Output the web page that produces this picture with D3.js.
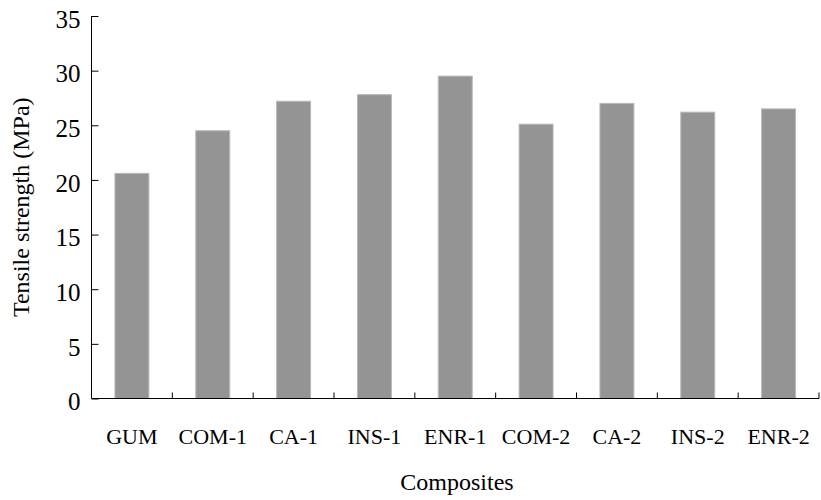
<!DOCTYPE html>
<html>
<head>
<meta charset="utf-8">
<script src="https://cdn.jsdelivr.net/npm/d3@7"></script>
<style>
  html, body { margin: 0; padding: 0; background: #fff; }
  svg text { font-family: "Liberation Serif", "Times New Roman", serif; fill: #000; }
</style>
</head>
<body>
<div id="chart"></div>
<script>
/* ===================================
 *  DATA
 * =================================== */
var composites = ["GUM", "COM-1", "CA-1", "INS-1", "ENR-1", "COM-2", "CA-2", "INS-2", "ENR-2"];
var tensileStrength = [20.6, 24.5, 27.2, 27.8, 29.5, 25.1, 27.0, 26.2, 26.5];
var yTicks = [0, 5, 10, 15, 20, 25, 30, 35];

/* ===================================
 *  SETUP
 * =================================== */
var width = 821,
  height = 500;

var margin = { top: 16, right: 2, bottom: 101.5, left: 91.5 };

var svg = d3
  .select("#chart")
  .append("svg")
  .attr("width", width)
  .attr("height", height);

var x = d3
  .scaleBand()
  .domain(composites)
  .range([margin.left, width - margin.right])
  .paddingInner(0.58)
  .paddingOuter(0.29);

var y = d3
  .scaleLinear()
  .domain([0, 35])
  .range([height - margin.bottom, margin.top]);

/* ===================================
 *  BARS
 * =================================== */
svg
  .append("g")
  .selectAll("rect")
  .data(tensileStrength)
  .join("rect")
  .attr("x", (d, i) => x(composites[i]))
  .attr("y", (d) => y(d))
  .attr("width", x.bandwidth())
  .attr("height", (d) => y(0) - y(d))
  .attr("fill", "#949494")
  .attr("stroke", "#b8b8b8")
  .attr("stroke-width", 1);

/* ===================================
 *  AXES
 * =================================== */
var yAxis = svg
  .append("g")
  .attr("transform", `translate(${margin.left},0)`)
  .call(d3.axisLeft(y).tickValues(yTicks).tickSize(-7).tickPadding(11));

yAxis.select(".domain").attr("d", `M0,${y(35)}V${y(0)}`).attr("stroke", "#000");
yAxis.selectAll(".tick line").attr("stroke", "#000");
yAxis.selectAll(".tick text").attr("font-size", "25px").attr("dy", "0.45em");

// x axis line plus boundary ticks between categories
var x0 = x.range()[0];
var boundaries = d3.range(1, composites.length + 1).map((i) => x0 + i * x.step());

var xAxis = svg.append("g");
xAxis
  .append("line")
  .attr("x1", x0)
  .attr("x2", x.range()[1])
  .attr("y1", y(0))
  .attr("y2", y(0))
  .attr("stroke", "#000");

xAxis
  .selectAll(".bound")
  .data(boundaries)
  .join("line")
  .attr("class", "bound")
  .attr("x1", (d) => d)
  .attr("x2", (d) => d)
  .attr("y1", y(0))
  .attr("y2", y(0) - 6)
  .attr("stroke", "#000");

xAxis
  .selectAll(".lbl")
  .data(composites)
  .join("text")
  .attr("class", "lbl")
  .attr("x", (d) => x(d) + x.bandwidth() / 2)
  .attr("y", 444)
  .attr("text-anchor", "middle")
  .attr("font-size", "22px")
  .text((d) => d);

/* ===================================
 *  TITLES
 * =================================== */
svg
  .append("text")
  .attr("x", 457)
  .attr("y", 490)
  .attr("text-anchor", "middle")
  .attr("font-size", "24px")
  .text("Composites");

svg
  .append("text")
  .attr("transform", `translate(29,${(y(0) + y(35)) / 2})rotate(-90)`)
  .attr("text-anchor", "middle")
  .attr("font-size", "24px")
  .text("Tensile strength (MPa)");
</script>
</body>
</html>
